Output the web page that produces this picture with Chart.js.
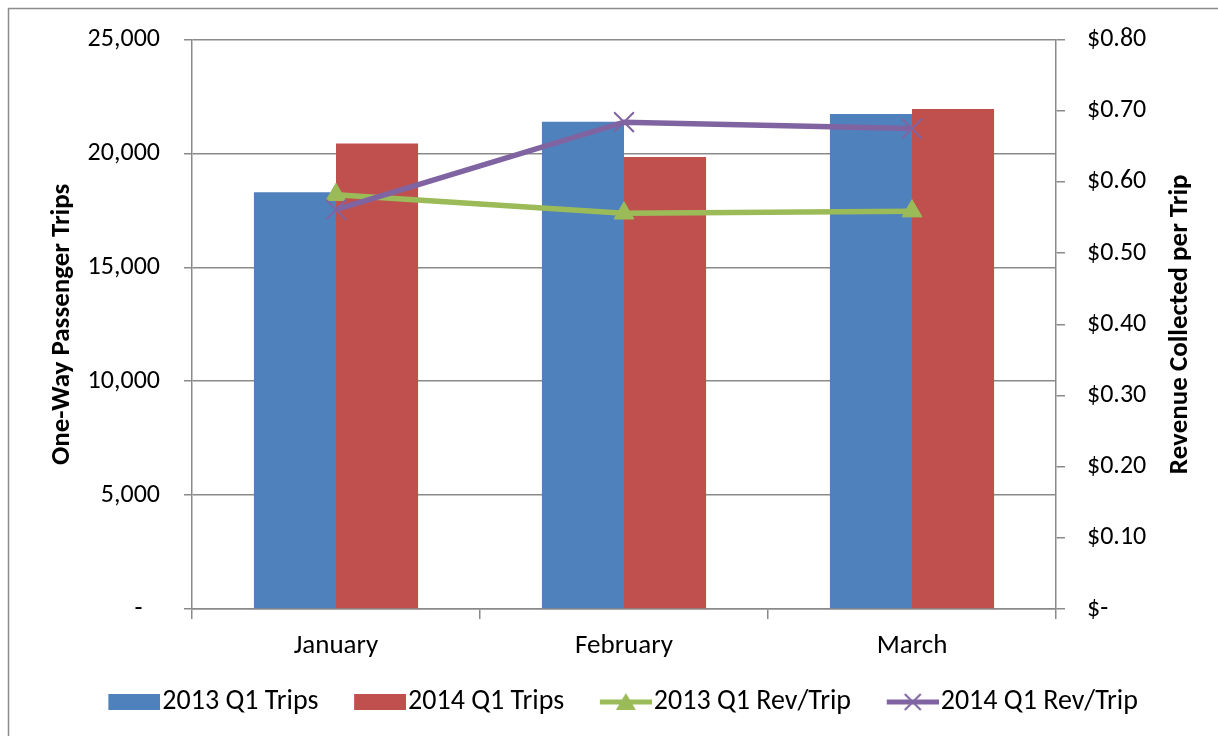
<!DOCTYPE html>
<html>
<head>
<meta charset="utf-8">
<script src="https://cdn.jsdelivr.net/npm/chart.js@4.4.1/dist/chart.umd.min.js"></script>
<style>
  html, body { margin: 0; padding: 0; background: #ffffff; }
  #wrap { width: 1218px; height: 736px; position: relative; }
</style>
</head>
<body>
<div id="wrap"><canvas id="c" width="1218" height="736"></canvas></div>
<script>
const categories = ['January', 'February', 'March'];
const trips2013 = [18300, 21390, 21730];
const trips2014 = [20440, 19840, 21950];
const rev2013 = [0.582, 0.556, 0.559];
const rev2014 = [0.561, 0.684, 0.675];
const leftTicks = [0, 5000, 10000, 15000, 20000, 25000];
const rightTicks = [0, 0.1, 0.2, 0.3, 0.4, 0.5, 0.6, 0.7, 0.8];
const seriesNames = ['2013 Q1 Trips', '2014 Q1 Trips', '2013 Q1 Rev/Trip', '2014 Q1 Rev/Trip'];

const FONT = "Carlito, Lato, 'Liberation Sans', sans-serif";
const BLUE = '#4F81BD', RED = '#C0504D', GREEN = '#9BBB59', PURPLE = '#8064A2';
const GRID = '#8a8a8a';

const LEG_FONT = 28;
const LEG_BOX = 52;
const LEG_P = 54 - LEG_FONT / 2;
const LEG_W = Math.ceil(2 * (LEG_BOX - LEG_P / 2));
const LEG_OFF = LEG_W - LEG_BOX;
const PAD_LEFT = 41;

function legendIcon(kind, color) {
  const cv = document.createElement('canvas');
  cv.width = LEG_W; cv.height = 24;
  const g = cv.getContext('2d');
  if (kind === 'bar') {
    g.fillStyle = color;
    g.fillRect(LEG_OFF, 4, LEG_BOX, 16);
  } else {
    g.strokeStyle = color; g.lineWidth = 5;
    g.beginPath(); g.moveTo(LEG_OFF, 12); g.lineTo(LEG_W, 12); g.stroke();
    const cx = LEG_OFF + LEG_BOX / 2;
    if (kind === 'tri') {
      g.fillStyle = color;
      g.beginPath(); g.moveTo(cx, 3); g.lineTo(cx + 10, 20); g.lineTo(cx - 10, 20); g.closePath(); g.fill();
    } else {
      g.lineWidth = 2;
      g.beginPath(); g.moveTo(cx - 8, 4); g.lineTo(cx + 8, 20); g.moveTo(cx + 8, 4); g.lineTo(cx - 8, 20); g.stroke();
    }
  }
  return cv;
}
const icons = [legendIcon('bar', BLUE), legendIcon('bar', RED), legendIcon('tri', GREEN), legendIcon('cross', PURPLE)];

const framePlugin = {
  id: 'frame',
  beforeDraw(chart) {
    const ctx = chart.ctx;
    ctx.save();
    ctx.fillStyle = '#ffffff';
    ctx.fillRect(0, 0, chart.width, chart.height);
    ctx.strokeStyle = '#8c8c8c';
    ctx.lineWidth = 1.5;
    ctx.strokeRect(8.5, 8.5, 1400, 1400);
    ctx.restore();
  }
};

const titlesPlugin = {
  id: 'axisTitles',
  afterDraw(chart) {
    const ctx = chart.ctx, a = chart.chartArea;
    const cy = (a.top + a.bottom) / 2;
    const draw = (text, x) => {
      ctx.save();
      ctx.fillStyle = '#000000';
      ctx.font = "bold 27px " + FONT;
      ctx.textAlign = 'center';
      ctx.textBaseline = 'middle';
      ctx.translate(x, cy);
      ctx.rotate(-Math.PI / 2);
      ctx.fillText(text, 0, 0);
      ctx.restore();
    };
    draw('One-Way Passenger Trips', a.left - 130);
    draw('Revenue Collected per Trip', a.right + 124);
  }
};

new Chart(document.getElementById('c'), {
  data: {
    labels: categories,
    datasets: [
      { type: 'bar', label: seriesNames[0], data: trips2013, backgroundColor: BLUE, yAxisID: 'y', order: 2,
        categoryPercentage: 0.57, barPercentage: 1.0 },
      { type: 'bar', label: seriesNames[1], data: trips2014, backgroundColor: RED, yAxisID: 'y', order: 2,
        categoryPercentage: 0.57, barPercentage: 1.0 },
      { type: 'line', label: seriesNames[2], data: rev2013, borderColor: GREEN, backgroundColor: GREEN, yAxisID: 'y1', order: 1,
        borderWidth: 5.5, tension: 0, pointStyle: 'triangle', pointRadius: 11.5, pointBackgroundColor: GREEN, pointBorderColor: GREEN, pointBorderWidth: 1 },
      { type: 'line', label: seriesNames[3], data: rev2014, borderColor: PURPLE, backgroundColor: PURPLE, yAxisID: 'y1', order: 0,
        borderWidth: 5.5, tension: 0, pointStyle: 'crossRot', pointRadius: 14, pointBorderColor: PURPLE, pointBorderWidth: 2 }
    ]
  },
  options: {
    responsive: false,
    animation: false,
    devicePixelRatio: 1,
    layout: { padding: { top: 38, left: PAD_LEFT, right: 0, bottom: 10 } },
    plugins: {
      tooltip: { enabled: false },
      legend: {
        position: 'bottom',
        labels: {
          usePointStyle: true,
          pointStyleWidth: LEG_P,
          boxHeight: 16,
          padding: 23,
          color: '#000000',
          font: { family: FONT, size: LEG_FONT },
          generateLabels(chart) {
            return chart.data.datasets.map((ds, i) => ({
              text: ds.label + '  ', pointStyle: icons[i], fillStyle: 'rgba(0,0,0,0)', strokeStyle: 'rgba(0,0,0,0)',
              lineWidth: 0, hidden: false, datasetIndex: i
            }));
          }
        }
      }
    },
    scales: {
      x: {
        offset: true,
        afterFit(scale) { scale.height = 56; },
        grid: { offset: true, drawOnChartArea: false, drawTicks: true, tickLength: 10, color: GRID, lineWidth: 1.5 },
        border: { display: true, color: GRID, width: 1.5 },
        ticks: { color: '#000000', font: { family: FONT, size: 27 }, padding: 11 }
      },
      y: {
        position: 'left',
        min: 0, max: 25000,
        afterBuildTicks(scale) { scale.ticks = leftTicks.map(v => ({ value: v })); },
        afterFit(scale) { scale.width = 192 - PAD_LEFT; },
        grid: { color: GRID, lineWidth: 1.5, tickLength: 8 },
        border: { display: true, color: GRID, width: 1.5 },
        ticks: {
          color: '#000000', font: { family: FONT, size: 26 }, padding: 24,
          callback(v) { return v === 0 ? '-   ' : v.toLocaleString('en-US'); }
        }
      },
      y1: {
        position: 'right',
        min: 0, max: 0.8,
        afterBuildTicks(scale) { scale.ticks = rightTicks.map(v => ({ value: v })); },
        afterFit(scale) { scale.width = 162; },
        grid: { drawOnChartArea: false, color: GRID, lineWidth: 1.5, tickLength: 9 },
        border: { display: true, color: GRID, width: 1.5 },
        ticks: {
          color: '#000000', font: { family: FONT, size: 26 }, padding: 22,
          callback(v) { return v === 0 ? '$-' : '$' + v.toFixed(2); }
        }
      }
    }
  },
  plugins: [framePlugin, titlesPlugin]
});
</script>
</body>
</html>
